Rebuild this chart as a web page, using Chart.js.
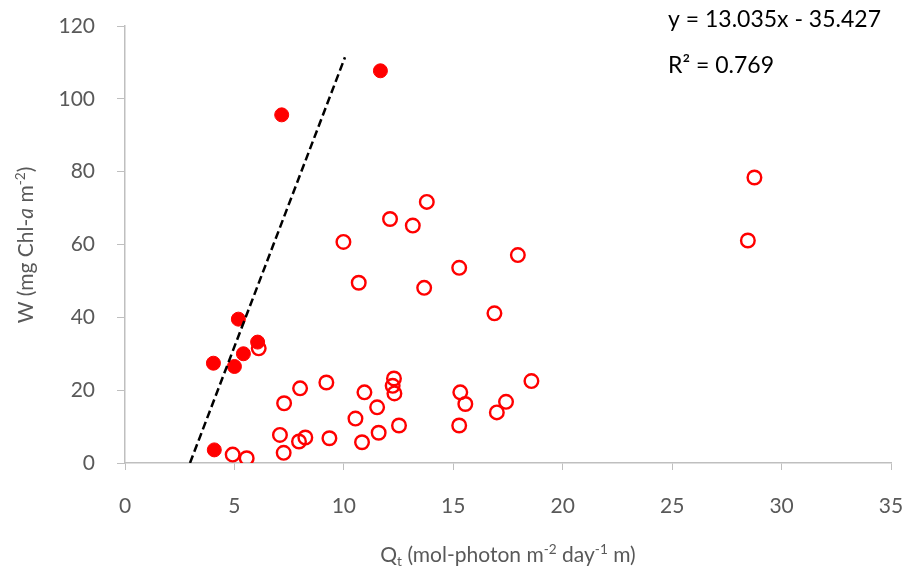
<!DOCTYPE html>
<html lang="en">
<head>
  <meta charset="UTF-8">
  <title>W vs Qt</title>
  <script src="https://cdn.jsdelivr.net/npm/chart.js"></script>
  <style>
    body { margin: 0; background: #fff; }
    .wrap { width: 905px; height: 573px; position: relative; }
  </style>
</head>
<body>

<div class="wrap">
  <canvas id="grafik"></canvas>
</div>

<script>
  // titik terisi (filled markers)
  const filledX = [4.04, 5.0, 5.41, 5.18, 6.06, 4.08, 7.16, 11.67];
  const filledY = [27.4, 26.5, 30.0, 39.5, 33.2, 3.6, 95.6, 107.7];

  // titik kosong (open markers)
  const openX = [6.11, 4.92, 5.56, 7.25, 7.08, 7.95, 8.24, 9.34, 10.83, 11.59,
                 12.52, 10.53, 11.52, 7.27, 8.0, 9.2, 10.94, 12.29, 12.23, 12.31,
                 9.98, 10.68, 12.11, 13.15, 13.79, 17.95, 15.27, 13.67, 16.88, 18.57,
                 15.32, 15.55, 17.41, 16.99, 15.27, 28.46, 28.76];
  const openY = [31.5, 2.3, 1.3, 2.8, 7.7, 5.9, 7.0, 6.8, 5.7, 8.3,
                 10.3, 12.2, 15.3, 16.4, 20.5, 22.1, 19.4, 23.2, 21.2, 19.1,
                 60.7, 49.5, 67.0, 65.2, 71.7, 57.1, 53.6, 48.1, 41.1, 22.5,
                 19.4, 16.2, 16.8, 13.9, 10.3, 61.1, 78.4];

  // garis tren (dashed trend line)
  const trendX = [2.97, 10.05];
  const trendY = [0, 111.4];

  const xTicks = [0, 5, 10, 15, 20, 25, 30, 35];
  const yTicks = [0, 20, 40, 60, 80, 100, 120];

  const equationText = 'y = 13.035x - 35.427';
  const r2Text = 'R\u00B2 = 0.769';

  const FONT = 'Lato, "Open Sans", sans-serif';
  const GRAY = '#595959';

  const toPoints = (xs, ys) => xs.map((x, i) => ({ x: x, y: ys[i] }));

  // draw text made of pieces (sub/superscript, italic)
  function drawRich(ctx, parts, size) {
    let total = 0;
    parts.forEach(p => {
      const s = p.small ? size * 0.65 : size;
      ctx.font = (p.italic ? 'italic ' : '') + s + 'px ' + FONT;
      p.w = ctx.measureText(p.t).width;
      total += p.w;
    });
    let x = -total / 2;
    parts.forEach(p => {
      const s = p.small ? size * 0.65 : size;
      ctx.font = (p.italic ? 'italic ' : '') + s + 'px ' + FONT;
      ctx.fillText(p.t, x, p.shift || 0);
      x += p.w;
    });
  }

  const labelPlugin = {
    id: 'labels',
    afterDraw(chart) {
      const ctx = chart.ctx;
      ctx.save();
      ctx.fillStyle = GRAY;
      ctx.textBaseline = 'alphabetic';
      ctx.textAlign = 'left';

      // x title
      ctx.save();
      ctx.translate(508, 562);
      drawRich(ctx, [
        { t: 'Q' },
        { t: 't', small: true, shift: 4 },
        { t: ' (mol-photon m' },
        { t: '-2', small: true, shift: -8 },
        { t: ' day' },
        { t: '-1', small: true, shift: -8 },
        { t: ' m)' }
      ], 21);
      ctx.restore();

      // y title
      ctx.save();
      ctx.translate(33, 245);
      ctx.rotate(-Math.PI / 2);
      drawRich(ctx, [
        { t: 'W (mg Chl-' },
        { t: 'a', italic: true },
        { t: ' m' },
        { t: '-2', small: true, shift: -8 },
        { t: ')' }
      ], 21);
      ctx.restore();

      // persamaan regresi
      ctx.fillStyle = '#000';
      ctx.font = '23px ' + FONT;
      ctx.fillText(equationText, 668, 27);
      ctx.fillText(r2Text, 668, 73);
      ctx.restore();
    }
  };

  const ctx = document.getElementById('grafik').getContext('2d');
  new Chart(ctx, {
    type: 'scatter',
    data: {
      datasets: [
        {
          label: 'trend',
          data: toPoints(trendX, trendY),
          showLine: true,
          borderColor: '#000',
          borderWidth: 2.5,
          borderDash: [8, 4],
          pointRadius: 0,
          fill: false
        },
        {
          label: 'filled',
          data: toPoints(filledX, filledY),
          backgroundColor: '#ff0000',
          borderColor: '#ff0000',
          borderWidth: 1,
          pointRadius: 7
        },
        {
          label: 'open',
          data: toPoints(openX, openY),
          backgroundColor: 'rgba(0,0,0,0)',
          borderColor: '#ff0000',
          borderWidth: 2.4,
          pointRadius: 6.8
        }
      ]
    },
    options: {
      responsive: true,
      maintainAspectRatio: false,
      animation: false,
      layout: { padding: { left: 0, right: 14, top: 26, bottom: 0 } },
      plugins: {
        legend: { display: false },
        tooltip: { enabled: false },
        title: { display: false }
      },
      scales: {
        x: {
          type: 'linear',
          min: 0,
          max: 35,
          afterBuildTicks: s => { s.ticks = xTicks.map(v => ({ value: v })); },
          afterFit: s => { s.height = 110; s.paddingLeft = 0; s.paddingRight = 0; },
          grid: { drawOnChartArea: false, drawTicks: true, tickLength: 7, color: '#bfbfbf' },
          border: { color: '#bfbfbf', width: 1.5 },
          ticks: { color: GRAY, font: { family: FONT, size: 21 }, padding: 24, maxRotation: 0 }
        },
        y: {
          type: 'linear',
          min: 0,
          max: 120,
          afterBuildTicks: s => { s.ticks = yTicks.map(v => ({ value: v })); },
          afterFit: s => { s.width = 125; s.paddingTop = 0; s.paddingBottom = 0; },
          grid: { drawOnChartArea: false, drawTicks: true, tickLength: 8, color: '#bfbfbf' },
          border: { color: '#bfbfbf', width: 1.5 },
          ticks: { color: GRAY, font: { family: FONT, size: 21 }, padding: 22 }
        }
      }
    },
    plugins: [labelPlugin]
  });
</script>

</body>
</html>
